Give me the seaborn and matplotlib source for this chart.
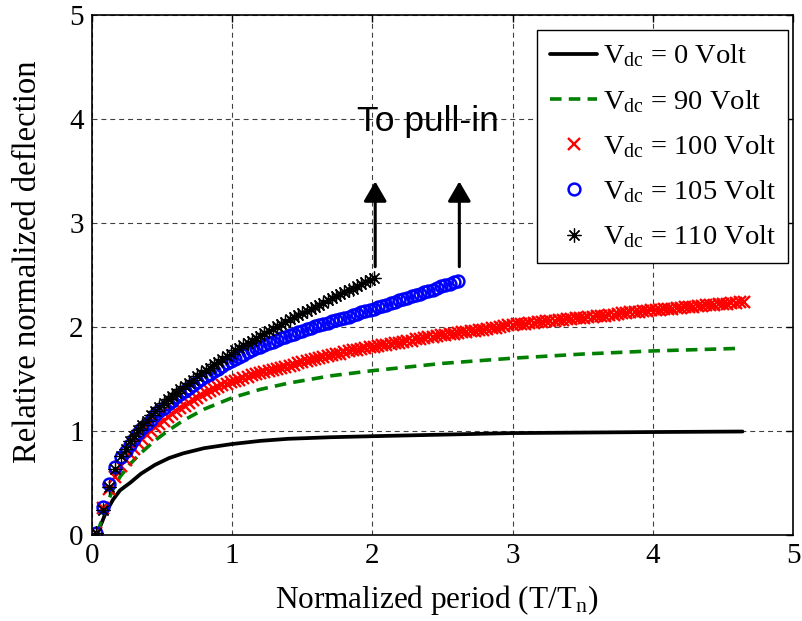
import matplotlib
matplotlib.use("Agg")
import matplotlib.pyplot as plt
import seaborn as sns

# Normalized period T/Tn at which the marker series were sampled
period = [
    0.03, 0.075, 0.12, 0.165, 0.21,
    0.24, 0.27, 0.30, 0.33, 0.36, 0.39, 0.42, 0.45, 0.48, 0.51,
    0.54, 0.57, 0.60, 0.63, 0.66, 0.69, 0.72, 0.75, 0.78, 0.81,
    0.84, 0.87, 0.90, 0.93, 0.96, 0.99, 1.02, 1.05, 1.08, 1.11,
    1.14, 1.17, 1.20, 1.23, 1.26, 1.29, 1.32, 1.35, 1.38, 1.41,
    1.44, 1.47, 1.50, 1.53, 1.56, 1.59, 1.62, 1.65, 1.68, 1.71,
    1.74, 1.77, 1.80, 1.83, 1.86, 1.89, 1.92, 1.95, 1.98, 2.01,
    2.04, 2.07, 2.10, 2.13, 2.16, 2.19, 2.22, 2.25, 2.28, 2.31,
    2.34, 2.37, 2.40, 2.43, 2.46, 2.49, 2.52, 2.55, 2.58, 2.61,
    2.64, 2.67, 2.70, 2.73, 2.76, 2.79, 2.82, 2.85, 2.88, 2.91,
    2.94, 2.97, 3.00, 3.03, 3.06, 3.09, 3.12, 3.15, 3.18, 3.21,
    3.24, 3.27, 3.30, 3.33, 3.36, 3.39, 3.42, 3.45, 3.48, 3.51,
    3.54, 3.57, 3.60, 3.63, 3.66, 3.69, 3.72, 3.75, 3.78, 3.81,
    3.84, 3.87, 3.90, 3.93, 3.96, 3.99, 4.02, 4.05, 4.08, 4.11,
    4.14, 4.17, 4.20, 4.23, 4.26, 4.29, 4.32, 4.35, 4.38, 4.41,
    4.44, 4.47, 4.50, 4.53, 4.56, 4.59, 4.62, 4.65,
]

# Vdc = 0 V and Vdc = 90 V (continuous curves)
period_0v = [0.04, 0.07, 0.10, 0.15, 0.20, 0.27, 0.35, 0.45, 0.55, 0.65, 0.80,
             1.00, 1.20, 1.40, 1.70, 2.00, 2.50, 3.00, 3.50, 4.00, 4.64]
defl_0v = [0.02, 0.12, 0.22, 0.34, 0.43, 0.50, 0.59, 0.675, 0.74, 0.785, 0.835,
           0.875, 0.905, 0.925, 0.94, 0.95, 0.965, 0.98, 0.985, 0.99, 0.995]

period_90v = [0.04, 0.07, 0.10, 0.15, 0.20, 0.27, 0.35, 0.45, 0.55, 0.65, 0.80,
              1.00, 1.20, 1.40, 1.70, 2.00, 2.50, 3.00, 3.50, 4.00, 4.63]
defl_90v = [0.02, 0.15, 0.28, 0.44, 0.56, 0.68, 0.79, 0.91, 1.01, 1.10, 1.21,
            1.32, 1.40, 1.46, 1.53, 1.58, 1.65, 1.70, 1.74, 1.77, 1.795]

# Vdc = 100 V (all sampled periods)
defl_100v = [
    0.02, 0.26, 0.44, 0.56, 0.66,
    0.72, 0.78, 0.83, 0.88, 0.92, 0.96, 1.00, 1.04, 1.07, 1.10,
    1.13, 1.16, 1.19, 1.22, 1.245, 1.27, 1.295, 1.32, 1.345, 1.365,
    1.385, 1.405, 1.425, 1.44, 1.455, 1.47, 1.48, 1.495, 1.51, 1.52,
    1.535, 1.545, 1.555, 1.565, 1.575, 1.585, 1.595, 1.605, 1.615, 1.625,
    1.635, 1.65, 1.66, 1.67, 1.68, 1.69, 1.70, 1.71, 1.72, 1.73,
    1.74, 1.745, 1.755, 1.765, 1.775, 1.78, 1.79, 1.80, 1.805, 1.81,
    1.82, 1.825, 1.83, 1.84, 1.845, 1.85, 1.86, 1.865, 1.87, 1.88,
    1.885, 1.89, 1.90, 1.905, 1.91, 1.92, 1.925, 1.93, 1.935, 1.94,
    1.95, 1.955, 1.96, 1.965, 1.97, 1.975, 1.985, 1.99, 1.995, 2.00,
    2.01, 2.015, 2.02, 2.025, 2.03, 2.03, 2.035, 2.04, 2.045, 2.05,
    2.055, 2.06, 2.06, 2.065, 2.07, 2.075, 2.08, 2.085, 2.09, 2.09,
    2.095, 2.10, 2.105, 2.11, 2.11, 2.115, 2.12, 2.125, 2.13, 2.135,
    2.14, 2.14, 2.145, 2.15, 2.155, 2.16, 2.16, 2.165, 2.17, 2.175,
    2.175, 2.18, 2.185, 2.19, 2.19, 2.195, 2.20, 2.205, 2.21, 2.21,
    2.215, 2.22, 2.225, 2.225, 2.23, 2.235, 2.24, 2.24,
]

# Vdc = 105 V (until pull-in)
defl_105v = [
    0.02, 0.27, 0.49, 0.65, 0.75,
    0.81, 0.87, 0.925, 0.98, 1.025, 1.07, 1.11, 1.15, 1.19, 1.225,
    1.26, 1.29, 1.325, 1.355, 1.385, 1.41, 1.44, 1.47, 1.50, 1.525,
    1.55, 1.58, 1.60, 1.625, 1.65, 1.675, 1.695, 1.715, 1.735, 1.755,
    1.775, 1.795, 1.81, 1.83, 1.845, 1.86, 1.875, 1.89, 1.905, 1.92,
    1.935, 1.95, 1.965, 1.98, 1.99, 2.005, 2.015, 2.03, 2.04, 2.055,
    2.065, 2.08, 2.09, 2.10, 2.115, 2.125, 2.14, 2.15, 2.165, 2.175,
    2.19, 2.20, 2.215, 2.23, 2.24, 2.255, 2.27, 2.28, 2.295, 2.31,
    2.32, 2.335, 2.35, 2.36, 2.375, 2.39, 2.40, 2.415, 2.43, 2.445,
]

# Vdc = 110 V (until pull-in)
defl_110v = [
    0.02, 0.24, 0.46, 0.63, 0.76,
    0.83, 0.90, 0.955, 1.01, 1.06, 1.10, 1.15, 1.19, 1.23, 1.27,
    1.305, 1.34, 1.37, 1.405, 1.435, 1.465, 1.495, 1.525, 1.555, 1.585,
    1.61, 1.64, 1.665, 1.69, 1.72, 1.745, 1.775, 1.80, 1.825, 1.85,
    1.87, 1.895, 1.915, 1.94, 1.96, 1.985, 2.005, 2.03, 2.05, 2.075,
    2.095, 2.115, 2.135, 2.155, 2.175, 2.195, 2.215, 2.235, 2.255, 2.275,
    2.295, 2.315, 2.335, 2.355, 2.37, 2.39, 2.41, 2.43, 2.45, 2.47,
]

legend_labels = [
    r"$\mathrm{V_{dc}}$ = 0 Volt",
    r"$\mathrm{V_{dc}}$ = 90 Volt",
    r"$\mathrm{V_{dc}}$ = 100 Volt",
    r"$\mathrm{V_{dc}}$ = 105 Volt",
    r"$\mathrm{V_{dc}}$ = 110 Volt",
]
xticks = [0, 1, 2, 3, 4, 5]
yticks = [0, 1, 2, 3, 4, 5]
pull_in_x = [2.02, 2.62]

sns.set_theme(style="white")
plt.rcParams["font.family"] = ["Liberation Serif", "DejaVu Serif"]
plt.rcParams["mathtext.fontset"] = "custom"
plt.rcParams["mathtext.rm"] = "Liberation Serif"
plt.rcParams["mathtext.it"] = "Liberation Serif:italic"
plt.rcParams["text.color"] = "black"
plt.rcParams["axes.labelcolor"] = "black"
plt.rcParams["xtick.color"] = "black"
plt.rcParams["ytick.color"] = "black"

fig = plt.figure(figsize=(8.02, 6.21), dpi=100)
ax = fig.add_axes([92 / 802, 86 / 621, 701 / 802, 520 / 621])
ax.set_facecolor("white")

sns.lineplot(x=period_0v, y=defl_0v, ax=ax, color="black", linewidth=2.7,
             label=legend_labels[0])
sns.lineplot(x=period_90v, y=defl_90v, ax=ax, color="#008000", linewidth=2.6,
             linestyle=(0, (3.2, 2.0)), label=legend_labels[1])
sns.lineplot(x=period[:len(defl_100v)], y=defl_100v, ax=ax, linestyle="none",
             marker="x", markersize=8.5, markeredgewidth=1.7, color="red",
             markeredgecolor="red", label=legend_labels[2])
sns.lineplot(x=period[:len(defl_105v)], y=defl_105v, ax=ax, linestyle="none",
             marker="o", markersize=8.5, markeredgewidth=1.8, color="blue",
             markerfacecolor="none", markeredgecolor="blue", label=legend_labels[3])
sns.lineplot(x=period[:len(defl_110v)], y=defl_110v, ax=ax, linestyle="none",
             marker=(8, 2, 0), markersize=10, markeredgewidth=0.9, color="black",
             markeredgecolor="black", label=legend_labels[4])

# Arrows marking the onset of pull-in
for px in pull_in_x:
    ax.annotate("", xy=(px, 3.40), xytext=(px, 2.58),
                arrowprops=dict(arrowstyle="-|>,head_length=0.55,head_width=0.32",
                                mutation_scale=22, lw=2.2, color="black",
                                shrinkA=0, shrinkB=0))
ax.text(1.89, 3.88, "To pull-in", fontsize=25.5, family="Liberation Sans",
        color="black", ha="left", va="baseline")

ax.set_xlim(0, 5)
ax.set_ylim(0, 5)
ax.set_xticks(xticks)
ax.set_yticks(yticks)
ax.set_xticklabels([str(t) for t in xticks])
ax.set_yticklabels([str(t) for t in yticks])
ax.tick_params(direction="in", length=5, width=1, labelsize=21, pad=6,
               top=True, right=True, colors="black")
ax.grid(True, color="black", linestyle=(0, (4.5, 3.5)), linewidth=0.8, alpha=0.75)
ax.set_axisbelow(True)
for s in ax.spines.values():
    s.set_color("black")
    s.set_linewidth(1.2)

ax.set_xlabel("Normalized period (T/T$_\\mathrm{n}$)", fontsize=22.5)
ax.set_ylabel("Relative normalized deflection", fontsize=23.5)
ax.xaxis.set_label_coords(0.491, -0.092)
ax.yaxis.set_label_coords(-0.070, 0.525)

handles, labels = ax.get_legend_handles_labels()
leg = ax.legend(handles, labels, loc="upper right", bbox_to_anchor=(0.993, 0.971),
                borderaxespad=0, fontsize=20.5, frameon=True, fancybox=False,
                framealpha=1, edgecolor="black", handlelength=1.68,
                handletextpad=0.18, labelspacing=0.645, borderpad=0.44)
leg.get_frame().set_linewidth(1.0)

fig.savefig("out.png", dpi=100, facecolor="white")
